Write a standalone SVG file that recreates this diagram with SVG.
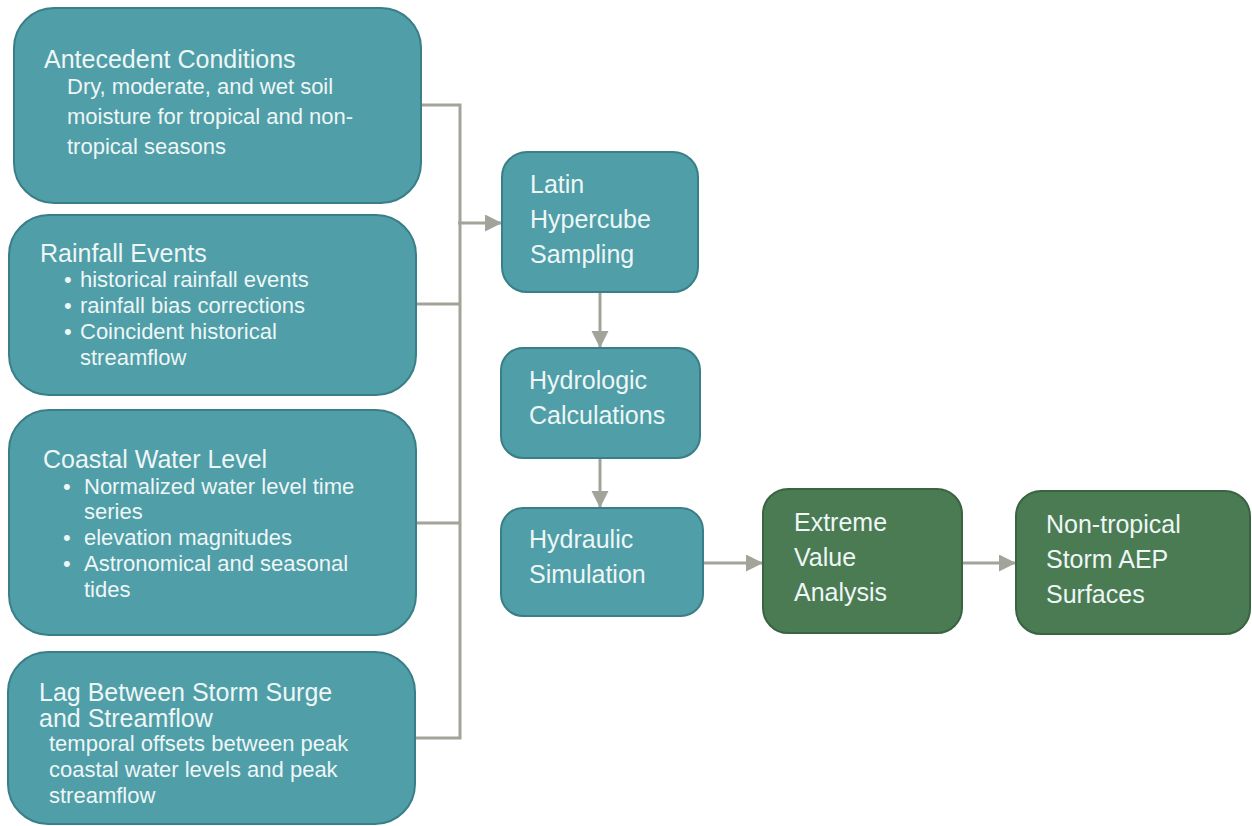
<svg xmlns="http://www.w3.org/2000/svg" width="1252" height="826" viewBox="0 0 1252 826">
  <style>
    .teal { fill: #4f9ea8; stroke: #3a7e87; stroke-width: 2; }
    .green { fill: #4a7b53; stroke: #3a6342; stroke-width: 2; }
    text { font-family: "Liberation Sans", Arial, sans-serif; fill: #eef6f6; }
    .t { font-size: 25px; }
    .b { font-size: 22px; }
    .conn { fill: none; stroke: #a3a39a; stroke-width: 3; }
  </style>
  <defs>
    <marker id="ah" markerUnits="userSpaceOnUse" markerWidth="18" markerHeight="18" refX="17" refY="8.5" orient="auto">
      <path d="M0,0 L17,8.5 L0,17 Z" fill="#a3a39a"/>
    </marker>
  </defs>
  <rect width="1252" height="826" fill="#ffffff"/>

  <g id="connectors">
    <path class="conn" d="M421,105 H460 V738 H415"/>
    <path class="conn" d="M416,304 H460"/>
    <path class="conn" d="M416,523 H460"/>
    <path class="conn" d="M458,223 H502" marker-end="url(#ah)"/>
    <path class="conn" d="M600,292 V348" marker-end="url(#ah)"/>
    <path class="conn" d="M600,458 V508" marker-end="url(#ah)"/>
    <path class="conn" d="M703,563 H763" marker-end="url(#ah)"/>
    <path class="conn" d="M962,563 H1016" marker-end="url(#ah)"/>
  </g>

  <g id="antecedent">
    <rect class="teal" x="14" y="8" width="407" height="195" rx="40"/>
    <text class="t" x="44" y="68">Antecedent Conditions</text>
    <text class="b" x="67" y="94">Dry, moderate, and wet soil</text>
    <text class="b" x="67" y="124">moisture for tropical and non-</text>
    <text class="b" x="67" y="154">tropical seasons</text>
  </g>

  <g id="rainfall">
    <rect class="teal" x="9" y="215" width="407" height="180" rx="40"/>
    <text class="t" x="40" y="262">Rainfall Events</text>
    <text class="b" x="64" y="287">•</text>
    <text class="b" x="80" y="287">historical rainfall events</text>
    <text class="b" x="64" y="313">•</text>
    <text class="b" x="80" y="313">rainfall bias corrections</text>
    <text class="b" x="64" y="339">•</text>
    <text class="b" x="80" y="339">Coincident historical</text>
    <text class="b" x="80" y="365">streamflow</text>
  </g>

  <g id="coastal">
    <rect class="teal" x="9" y="410" width="407" height="225" rx="40"/>
    <text class="t" x="43" y="468">Coastal Water Level</text>
    <text class="b" x="63" y="494">•</text>
    <text class="b" x="84" y="494">Normalized water level time</text>
    <text class="b" x="84" y="519">series</text>
    <text class="b" x="63" y="545">•</text>
    <text class="b" x="84" y="545">elevation magnitudes</text>
    <text class="b" x="63" y="571">•</text>
    <text class="b" x="84" y="571">Astronomical and seasonal</text>
    <text class="b" x="84" y="597">tides</text>
  </g>

  <g id="lag">
    <rect class="teal" x="8" y="652" width="407" height="172" rx="40"/>
    <text class="t" x="39" y="701">Lag Between Storm Surge</text>
    <text class="t" x="39" y="727">and Streamflow</text>
    <text class="b" x="49" y="751">temporal offsets between peak</text>
    <text class="b" x="49" y="777">coastal water levels and peak</text>
    <text class="b" x="49" y="803">streamflow</text>
  </g>

  <g id="latin">
    <rect class="teal" x="502" y="152" width="196" height="140" rx="25"/>
    <text class="t" x="530" y="193">Latin</text>
    <text class="t" x="530" y="228">Hypercube</text>
    <text class="t" x="530" y="263">Sampling</text>
  </g>

  <g id="hydrologic">
    <rect class="teal" x="501" y="348" width="199" height="110" rx="22"/>
    <text class="t" x="529" y="389">Hydrologic</text>
    <text class="t" x="529" y="424">Calculations</text>
  </g>

  <g id="hydraulic">
    <rect class="teal" x="501" y="508" width="202" height="108" rx="22"/>
    <text class="t" x="529" y="548">Hydraulic</text>
    <text class="t" x="529" y="583">Simulation</text>
  </g>

  <g id="extreme">
    <rect class="green" x="763" y="489" width="199" height="144" rx="25"/>
    <text class="t" x="794" y="531">Extreme</text>
    <text class="t" x="794" y="566">Value</text>
    <text class="t" x="794" y="601">Analysis</text>
  </g>

  <g id="nontropical">
    <rect class="green" x="1016" y="491" width="234" height="143" rx="25"/>
    <text class="t" x="1046" y="533">Non-tropical</text>
    <text class="t" x="1046" y="568">Storm AEP</text>
    <text class="t" x="1046" y="603">Surfaces</text>
  </g>
</svg>
